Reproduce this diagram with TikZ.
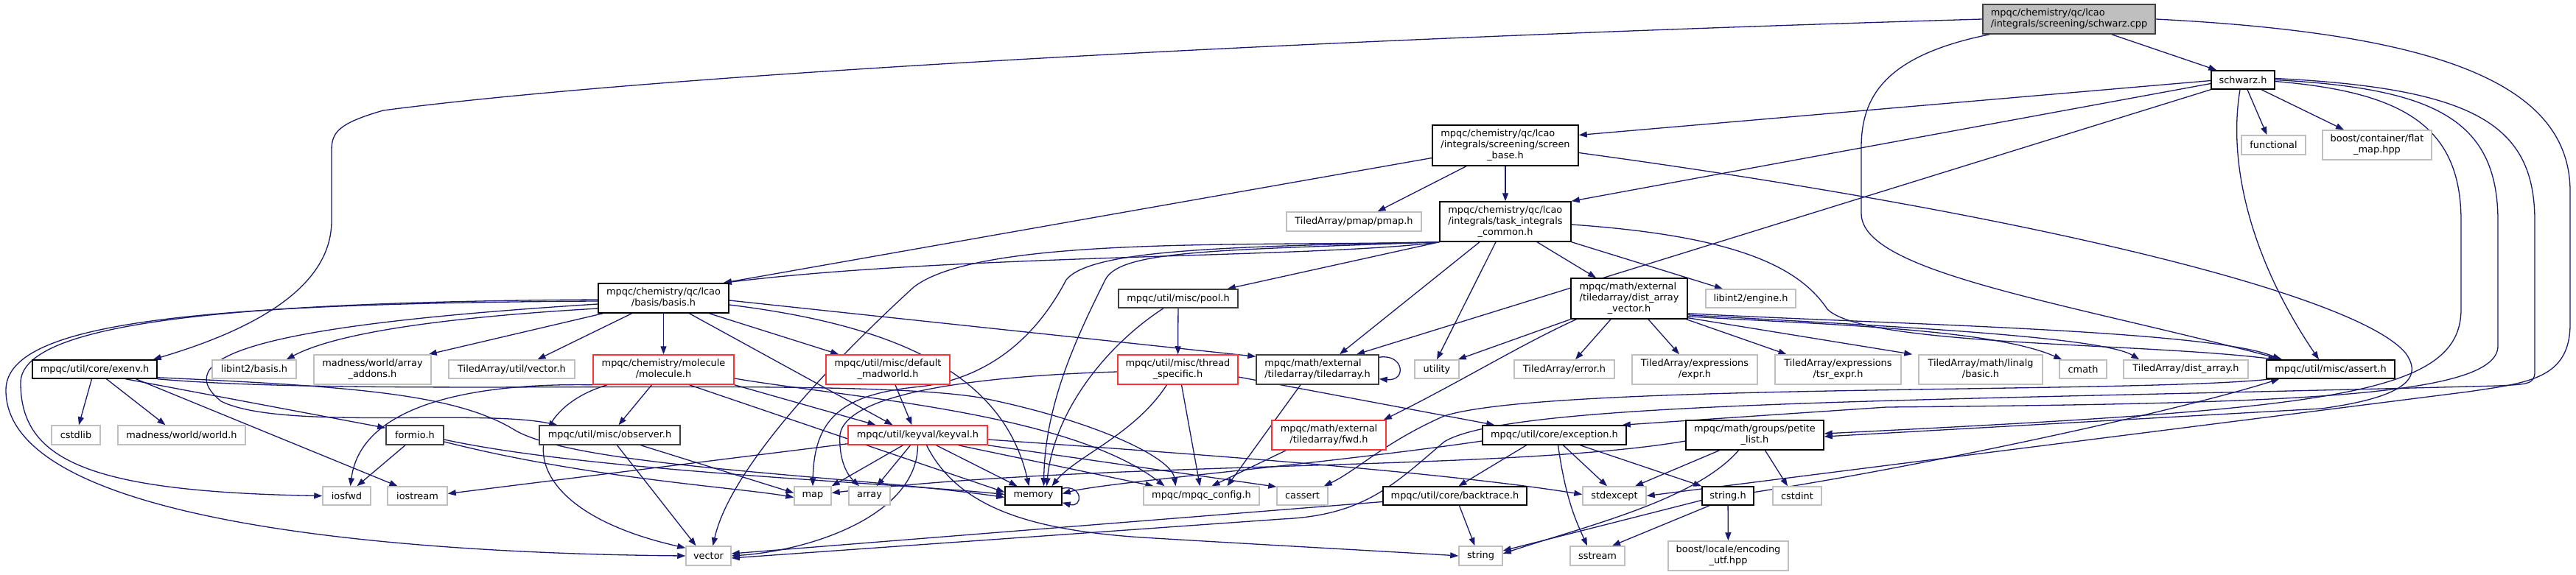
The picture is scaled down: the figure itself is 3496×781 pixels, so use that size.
\documentclass[tikz,border=0pt]{standalone}
\usepackage{fontspec}
\setmainfont{DejaVu Sans}
\usetikzlibrary{arrows.meta,backgrounds}
\definecolor{edge}{HTML}{191970}
\definecolor{extline}{HTML}{BFBFBF}
\definecolor{docline}{HTML}{000000}
\definecolor{darkline}{HTML}{404040}
\definecolor{trline}{HTML}{FF3333}
\definecolor{rootfill}{HTML}{BFBFBF}
\newcommand{\twoline}[2]{\begin{tabular}{@{}l@{}}#1\\\multicolumn{1}{@{}c@{}}{#2}\end{tabular}}
\newcommand{\threeline}[3]{\begin{tabular}{@{}l@{}}#1\\#2\\\multicolumn{1}{@{}c@{}}{#3}\end{tabular}}
\tikzset{
  base/.style={draw=docline,fill=white,line width=1.5pt,inner sep=0pt,align=center,font=\fontsize{12.9}{15}\selectfont},
  sz/.style 2 args={minimum width=#1pt,minimum height=#2pt},
  doc/.style={base},
  dark/.style={base,draw=darkline},
  ext/.style={base,draw=extline},
  trunc/.style={base,draw=trline},
  root/.style={base,draw=darkline,fill=rootfill},
  dep/.style={-{Triangle[length=11pt,width=8pt]},draw=edge,line width=1.3pt}
}

\begin{document}
\begin{tikzpicture}[x=1pt,y=-1pt]
\useasboundingbox (0,0) rectangle (3496,781);
% row 0-3
\node[root,sz={234}{40}] (cpp) at (2808,26) {\twoline{mpqc/chemistry/qc/lcao}{/integrals/screening/schwarz.cpp}};
\node[doc,sz={86}{25}] (schwarzh) at (3044,108.5) {schwarz.h};
\node[doc,sz={198}{55}] (screenbase) at (2043,197.5) {\threeline{mpqc/chemistry/qc/lcao}{/integrals/screening/screen}{\_base.h}};
\node[ext,sz={87}{26}] (functional) at (3085.5,197) {functional};
\node[ext,sz={148}{40}] (flatmap) at (3226,197) {\twoline{boost/container/flat}{\_map.hpp}};
\node[ext,sz={183}{26}] (pmap) at (1837.5,301) {TiledArray/pmap/pmap.h};
\node[doc,sz={178}{54}] (taskint) at (2043,301) {\threeline{mpqc/chemistry/qc/lcao}{/integrals/task\_integrals}{\_common.h}};
% row 4
\node[doc,sz={177}{40}] (basis) at (900.5,405) {\twoline{mpqc/chemistry/qc/lcao}{/basis/basis.h}};
\node[dark,sz={162}{25}] (pool) at (1599,405.5) {mpqc/util/misc/pool.h};
\node[doc,sz={158}{55}] (davector) at (2211,405.5) {\threeline{mpqc/math/external}{/tiledarray/dist\_array}{\_vector.h}};
\node[ext,sz={122}{25}] (engine) at (2376,405.5) {libint2/engine.h};
% row 5
\node[doc,sz={169}{25}] (exenv) at (128.5,501.5) {mpqc/util/core/exenv.h};
\node[ext,sz={114}{25}] (libbasis) at (345,501.5) {libint2/basis.h};
\node[ext,sz={159}{40}] (addons) at (505.5,502) {\twoline{madness/world/array}{\_addons.h}};
\node[ext,sz={171}{25}] (tavector) at (694.5,501.5) {TiledArray/util/vector.h};
\node[trunc,sz={191}{40}] (molecule) at (900.5,502) {\twoline{mpqc/chemistry/molecule}{/molecule.h}};
\node[trunc,sz={168}{40}] (madworld) at (1205,502) {\twoline{mpqc/util/misc/default}{\_madworld.h}};
\node[trunc,sz={163}{40}] (thread) at (1598.5,502) {\twoline{mpqc/util/misc/thread}{\_specific.h}};
\node[dark,sz={166}{40}] (tiledarray) at (1788,502) {\twoline{mpqc/math/external}{/tiledarray/tiledarray.h}};
\node[ext,sz={60}{25}] (utility) at (1950,501.5) {utility};
\node[ext,sz={136}{25}] (taerror) at (2123,501.5) {TiledArray/error.h};
\node[ext,sz={170}{40}] (expr) at (2300,502) {\twoline{TiledArray/expressions}{/expr.h}};
\node[ext,sz={171}{40}] (tsrexpr) at (2494.5,502) {\twoline{TiledArray/expressions}{/tsr\_expr.h}};
\node[ext,sz={168}{40}] (linalg) at (2688,502) {\twoline{TiledArray/math/linalg}{/basic.h}};
\node[ext,sz={64}{25}] (cmath) at (2827,501.5) {cmath};
\node[ext,sz={169}{25}] (distarray) at (2966.5,501.5) {TiledArray/dist\_array.h};
\node[doc,sz={174}{25}] (assert) at (3163,501.5) {mpqc/util/misc/assert.h};
% row 6
\node[ext,sz={66}{26}] (cstdlib) at (103,591) {cstdlib};
\node[ext,sz={173}{26}] (world) at (246.5,591) {madness/world/world.h};
\node[dark,sz={78}{26}] (formio) at (563,591) {formio.h};
\node[dark,sz={191}{26}] (observer) at (827.5,591) {mpqc/util/misc/observer.h};
\node[trunc,sz={189}{26}] (keyval) at (1245.5,591) {mpqc/util/keyval/keyval.h};
\node[trunc,sz={155}{40}] (fwd) at (1803.5,591) {\twoline{mpqc/math/external}{/tiledarray/fwd.h}};
\node[doc,sz={195}{26}] (exception) at (2109.5,591) {mpqc/util/core/exception.h};
\node[doc,sz={187}{40}] (petite) at (2381.5,591) {\twoline{mpqc/math/groups/petite}{\_list.h}};
% row 7
\node[ext,sz={65}{25}] (iosfwd) at (470.5,673.5) {iosfwd};
\node[ext,sz={81}{25}] (iostream) at (566.5,673.5) {iostream};
\node[ext,sz={50}{25}] (map) at (1103,673.5) {map};
\node[ext,sz={56}{25}] (array) at (1180,673.5) {array};
\node[doc,sz={77}{25}] (memory) at (1402.5,673.5) {memory};
\node[ext,sz={157}{25}] (config) at (1630.5,673.5) {mpqc/mpqc\_config.h};
\node[ext,sz={69}{25}] (cassert) at (1767.5,673.5) {cassert};
\node[doc,sz={195}{25}] (backtrace) at (1974.5,673.5) {mpqc/util/core/backtrace.h};
\node[ext,sz={86}{25}] (stdexcept) at (2191,673.5) {stdexcept};
\node[doc,sz={70}{25}] (stringh) at (2345,673.5) {string.h};
\node[ext,sz={66}{25}] (cstdint) at (2439,673.5) {cstdint};
% row 8
\node[ext,sz={61}{26}] (vector) at (961.5,755) {vector};
\node[ext,sz={59}{26}] (string) at (2009.5,755) {string};
\node[ext,sz={74}{26}] (sstream) at (2168,755) {sstream};
\node[ext,sz={163}{40}] (encoding) at (2345.5,755) {\twoline{boost/locale/encoding}{\_utf.hpp}};

\begin{scope}[on background layer]
\fill[white] (0,0) rectangle (3496,781);
% schwarz.cpp
\draw[dep] (cpp.west) .. controls (1800,52) and (900,100) .. (520,150) .. controls (458,168) and (450,180) .. (450,205) -- (450,300) .. controls (450,400) and (320,455) .. ([xshift=-6pt]exenv.north east);
\draw[dep] ([xshift=-60pt]cpp.south east) -- ([xshift=8pt]schwarzh.north west);
\draw[dep] ([xshift=10pt]cpp.south west) .. controls (2560,75) and (2526,130) .. (2526,200) -- (2526,290) .. controls (2526,370) and (2800,410) .. ([xshift=22pt]assert.north west);
\draw[dep] (cpp.east) .. controls (3300,45) and (3488,110) .. (3488,260) -- (3488,440) .. controls (3488,515) and (3430,520) .. (3350,532) -- (stdexcept.east);
% schwarz.h
\draw[dep] ([yshift=-1pt]schwarzh.west) -- ([yshift=14pt]screenbase.east);
\draw[dep] ([yshift=-5pt]schwarzh.west) -- (taskint.north east);
\draw[dep] (schwarzh.south west) -- ([xshift=53pt]tiledarray.north);
\draw[dep] ([xshift=6pt]schwarzh.south) -- ([xshift=-9pt]functional.north);
\draw[dep] ([xshift=25pt]schwarzh.south) -- ([xshift=-45pt]flatmap.north);
\draw[dep] ([xshift=-4pt]schwarzh.south) .. controls (3022,230) and (3060,360) .. ([xshift=-16pt]assert.north);
\draw[dep] ([yshift=-2pt]schwarzh.east) .. controls (3260,125) and (3340,170) .. (3340,300) -- (3340,420) .. controls (3340,540) and (3150,555) .. ([yshift=2pt]petite.east);
\draw[dep] (schwarzh.east) .. controls (3300,120) and (3390,160) .. (3390,300) -- (3390,470) .. controls (3390,540) and (3100,548) .. (2560,553) -- ([xshift=-6pt]exception.north east);
\draw[dep] ([yshift=2pt]schwarzh.east) .. controls (3360,120) and (3440,170) .. (3440,300) -- (3440,505) .. controls (3440,522) and (3430,522) .. (3390,524) .. controls (2600,545) and (2050,545) .. (1960,600) .. controls (1890,660) and (1850,700) .. (1740,705) -- ([yshift=-3pt]vector.east);
% screen_base.h
\draw[dep] ([yshift=-17pt]screenbase.west) -- ([xshift=-8pt]basis.north east);
\draw[dep] ([xshift=-53pt]screenbase.south) -- ([xshift=32pt]pmap.north);
\draw[dep] (screenbase) -- (taskint);
\draw[dep] ([yshift=-10pt]screenbase.east) .. controls (2750,290) and (3200,400) .. (3265,480) .. controls (3290,515) and (3260,540) .. (3150,555) -- ([yshift=-2pt]petite.east);
% task_integrals_common.h
\draw[dep] (taskint.south west) .. controls (1800,350) and (1300,345) .. ([xshift=-8pt]basis.north east);
\draw[dep] (taskint.south west) .. controls (1700,335) and (1330,320) .. (1240,390) .. controls (1120,500) and (990,640) .. ([xshift=6pt]vector.north);
\draw[dep] (taskint.south west) .. controls (1650,335) and (1480,340) .. (1447,380) .. controls (1400,470) and (1330,515) .. (1250,525) .. controls (1140,535) and (1105,570) .. (map.north);
\draw[dep] (taskint.south west) .. controls (1650,340) and (1520,340) .. (1500,380) .. controls (1460,460) and (1418,550) .. ([xshift=14pt]memory.north);
\draw[dep] (taskint.south west) -- ([xshift=-15pt]pool.north east);
\draw[dep] ([xshift=-35pt]taskint.south) -- ([xshift=30pt]tiledarray.north);
\draw[dep] ([xshift=-13pt]taskint.south) -- (utility.north);
\draw[dep] ([xshift=43pt]taskint.south) -- ([xshift=-45pt]davector.north);
\draw[dep] (taskint.south east) -- ([xshift=-38pt]engine.north);
\draw[dep] ([yshift=-4pt]taskint.east) .. controls (2350,320) and (2440,360) .. (2480,420) .. controls (2530,470) and (2900,465) .. ([xshift=14pt]assert.north west);
% dist_array_vector.h
\draw[dep] (davector.south west) -- ([xshift=-2pt]utility.north east);
\draw[dep] ([xshift=8pt]davector.south west) .. controls (2060,470) and (1980,520) .. ([xshift=-4pt]fwd.north east);
\draw[dep] ([xshift=-25pt]davector.south) -- ([xshift=15pt]taerror.north);
\draw[dep] ([xshift=26pt]davector.south) -- ([xshift=-21pt]expr.north);
\draw[dep] ([xshift=-2pt]davector.south east) -- ([xshift=-70pt]tsrexpr.north);
\draw[dep] ([yshift=2pt]davector.south east) -- ([xshift=-8pt]linalg.north west);
\draw[dep] ([yshift=4pt]davector.south east) .. controls (2450,440) and (2700,445) .. ([xshift=4pt]cmath.north west);
\draw[dep] ([yshift=6pt]davector.south east) .. controls (2500,440) and (2850,455) .. ([xshift=22pt]distarray.north west);
\draw[dep] ([yshift=8pt]davector.south east) .. controls (2550,440) and (3000,448) .. ([xshift=20pt]assert.north west);
% basis.h
\draw[dep] ([yshift=-2pt]basis.west) .. controls (300,410) and (28,440) .. (28,520) .. controls (28,625) and (120,668) .. (iosfwd.west);
\draw[dep] ([yshift=-4pt]basis.west) .. controls (250,412) and (8,440) .. (8,530) .. controls (8,720) and (600,752) .. (vector.west);
\draw[dep] ([yshift=-8pt]basis.west) .. controls (380,440) and (220,480) .. (300,545) .. controls (380,585) and (650,555) .. ([xshift=25pt]observer.north west);
\draw[dep] ([yshift=-14pt]basis.west) .. controls (620,430) and (460,450) .. ([xshift=-14pt]libbasis.north east);
\draw[dep] ([xshift=7pt]basis.south west) -- ([xshift=-4pt]addons.north east);
\draw[dep] ([xshift=-43pt]basis.south) -- ([xshift=35pt]tavector.north);
\draw[dep] (basis) -- (molecule);
\draw[dep] ([xshift=35pt]basis.south) -- ([xshift=-34pt]keyval.north);
\draw[dep] ([xshift=62pt]basis.south) -- ([xshift=18pt]madworld.north west);
\draw[dep] ([yshift=-3pt]basis.east) -- ([yshift=-3pt]tiledarray.north west);
\draw[dep] ([yshift=-9pt]basis.east) .. controls (1200,440) and (1360,500) .. ([xshift=-6pt]memory.north);
% exenv.h
\draw[dep] ([xshift=-4pt]exenv.south) -- ([xshift=4pt]cstdlib.north);
\draw[dep] ([xshift=16pt]exenv.south) -- ([xshift=-22pt]world.north);
\draw[dep] ([xshift=42pt]exenv.south) -- ([yshift=-4pt]formio.north west);
\draw[dep] ([xshift=56pt]exenv.south) -- ([xshift=-27pt]iostream.north);
\draw[dep] (exenv.south east) .. controls (500,540) and (1150,510) .. (1330,540) .. controls (1480,570) and (1590,620) .. ([xshift=-35pt]config.north);
\draw[dep] ([yshift=2pt]exenv.south east) .. controls (480,525) and (620,535) .. (700,585) .. controls (790,635) and (1150,645) .. ([yshift=-2pt]memory.west);
% formio.h, observer.h, molecule.h
\draw[dep] ([xshift=-13pt]formio.south) -- ([xshift=14pt]iosfwd.north);
\draw[dep] ([yshift=-6pt]formio.east) .. controls (800,640) and (1200,655) .. ([yshift=2pt]memory.west);
\draw[dep] ([yshift=-9pt]formio.east) .. controls (800,650) and (1000,662) .. ([yshift=-2pt]map.west);
\draw[dep] ([xshift=10pt]observer.south) -- ([xshift=-17pt]vector.north);
\draw[dep] ([xshift=42pt]observer.south) -- ([yshift=4pt]map.west);
\draw[dep] ([xshift=-16pt]molecule.south) -- ([xshift=12pt]observer.north);
\draw[dep] (molecule.south west) .. controls (640,520) and (490,550) .. ([xshift=5pt]iosfwd.north);
\draw[dep] ([xshift=20pt]molecule.south west) .. controls (700,560) and (690,690) .. ([yshift=-3pt]vector.north west);
\draw[dep] (molecule.south east) -- ([xshift=-57pt]keyval.north);
\draw[dep] ([xshift=35pt]molecule.south) -- ([yshift=5pt]memory.west);
\draw[dep] ([yshift=-12pt]molecule.east) .. controls (1150,540) and (1450,560) .. ([xshift=-50pt]config.north);
\draw[dep] ([xshift=10pt]madworld.south) -- ([xshift=-8pt]keyval.north);
% thread_specific.h, pool.h
\draw[dep] ([xshift=-15pt]thread.south) .. controls (1540,590) and (1460,620) .. ([xshift=25pt]memory.north);
\draw[dep] ([xshift=5pt]thread.south) -- ([xshift=-2pt]config.north);
\draw[dep] ([yshift=-10pt]thread.east) -- ([xshift=17pt]exception.north west);
\draw[dep] ([yshift=-3pt]thread.west) .. controls (1350,510) and (1150,530) .. (1140,590) .. controls (1138,625) and (1150,645) .. ([xshift=-14pt]array.north);
\draw[dep] (pool) -- (thread);
\draw[dep] ([xshift=-20pt]pool.south) .. controls (1500,470) and (1430,560) .. ([xshift=18pt]memory.north);
% tiledarray.h, fwd.h
\draw[dep] ([yshift=-4pt]tiledarray.north east) .. controls (1905,480) and (1910,518) .. ([yshift=8pt]tiledarray.south east);
\draw[dep] ([xshift=-23pt]tiledarray.south) -- ([xshift=35pt]config.north);
\draw[dep] ([xshift=20pt]fwd.south west) -- ([xshift=14pt]config.north);
% keyval.h
\draw[dep] ([xshift=-20pt]keyval.south) -- (map.north east);
\draw[dep] ([xshift=-10pt]keyval.south) -- ([xshift=10pt]array.north);
\draw[dep] (keyval.south) .. controls (1245,700) and (1100,748) .. (vector.east);
\draw[dep] ([xshift=25pt]keyval.south) -- ([xshift=-22pt]memory.north);
\draw[dep] ([xshift=55pt]keyval.south) -- ([xshift=-65pt]config.north);
\draw[dep] ([yshift=2pt]keyval.south west) -- ([yshift=3pt]iostream.east);
\draw[dep] (keyval.south east) -- ([yshift=-1pt]cassert.north west);
\draw[dep] ([yshift=-6pt]keyval.east) .. controls (1600,615) and (1950,640) .. ([yshift=2pt]stdexcept.west);
\draw[dep] ([xshift=12pt]keyval.south) .. controls (1300,690) and (1400,720) .. (1550,730) .. controls (1750,742) and (1900,750) .. (string.west);
% exception.h, backtrace.h
\draw[dep] ([xshift=-38pt]exception.south) -- ([xshift=5pt]backtrace.north);
\draw[dep] ([xshift=12pt]exception.south) -- ([xshift=-10pt]stdexcept.north);
\draw[dep] ([xshift=35pt]exception.south) -- (stringh.north west);
\draw[dep] ([xshift=5pt]exception.south) .. controls (2125,680) and (2140,710) .. ([xshift=-14pt]sstream.north);
\draw[dep] ([yshift=-8pt]exception.west) .. controls (1800,630) and (1500,655) .. ([yshift=3pt]memory.east);
\draw[dep] ([xshift=6pt]backtrace.south) -- ([xshift=-8pt]string.north);
\draw[dep] ([yshift=-8pt]backtrace.west) -- ([yshift=3pt]vector.east);
% petite_list.h
\draw[dep] ([xshift=-48pt]petite.south) -- ([xshift=28pt]stdexcept.north);
\draw[dep] ([xshift=-22pt]petite.south) .. controls (2300,680) and (2150,715) .. ([yshift=3pt]string.east);
\draw[dep] ([xshift=14pt]petite.south) -- ([xshift=-13pt]cstdint.north);
\draw[dep] ([yshift=-8pt]petite.west) .. controls (2050,640) and (1500,625) .. ([yshift=4pt]map.east);
% string.h, assert.h, memory
\draw[dep] (stringh) -- (encoding);
\draw[dep] ([xshift=-25pt]stringh.south) -- ([xshift=20pt]sstream.north);
\draw[dep] ([yshift=-6pt]stringh.west) -- ([yshift=7pt]string.east);
\draw[dep] ([yshift=5pt]stringh.east) .. controls (2600,635) and (2950,560) .. ([xshift=18pt]assert.south west);
\draw[dep] ([xshift=8pt]assert.south west) .. controls (2900,535) and (2100,520) .. (1960,565) .. controls (1880,600) and (1840,640) .. ([xshift=-6pt]cassert.north east);
\draw[dep] ([yshift=-3pt]memory.north east) .. controls (1470,658) and (1470,690) .. ([yshift=4pt]memory.south east);
\end{scope}
\end{tikzpicture}
\end{document}
